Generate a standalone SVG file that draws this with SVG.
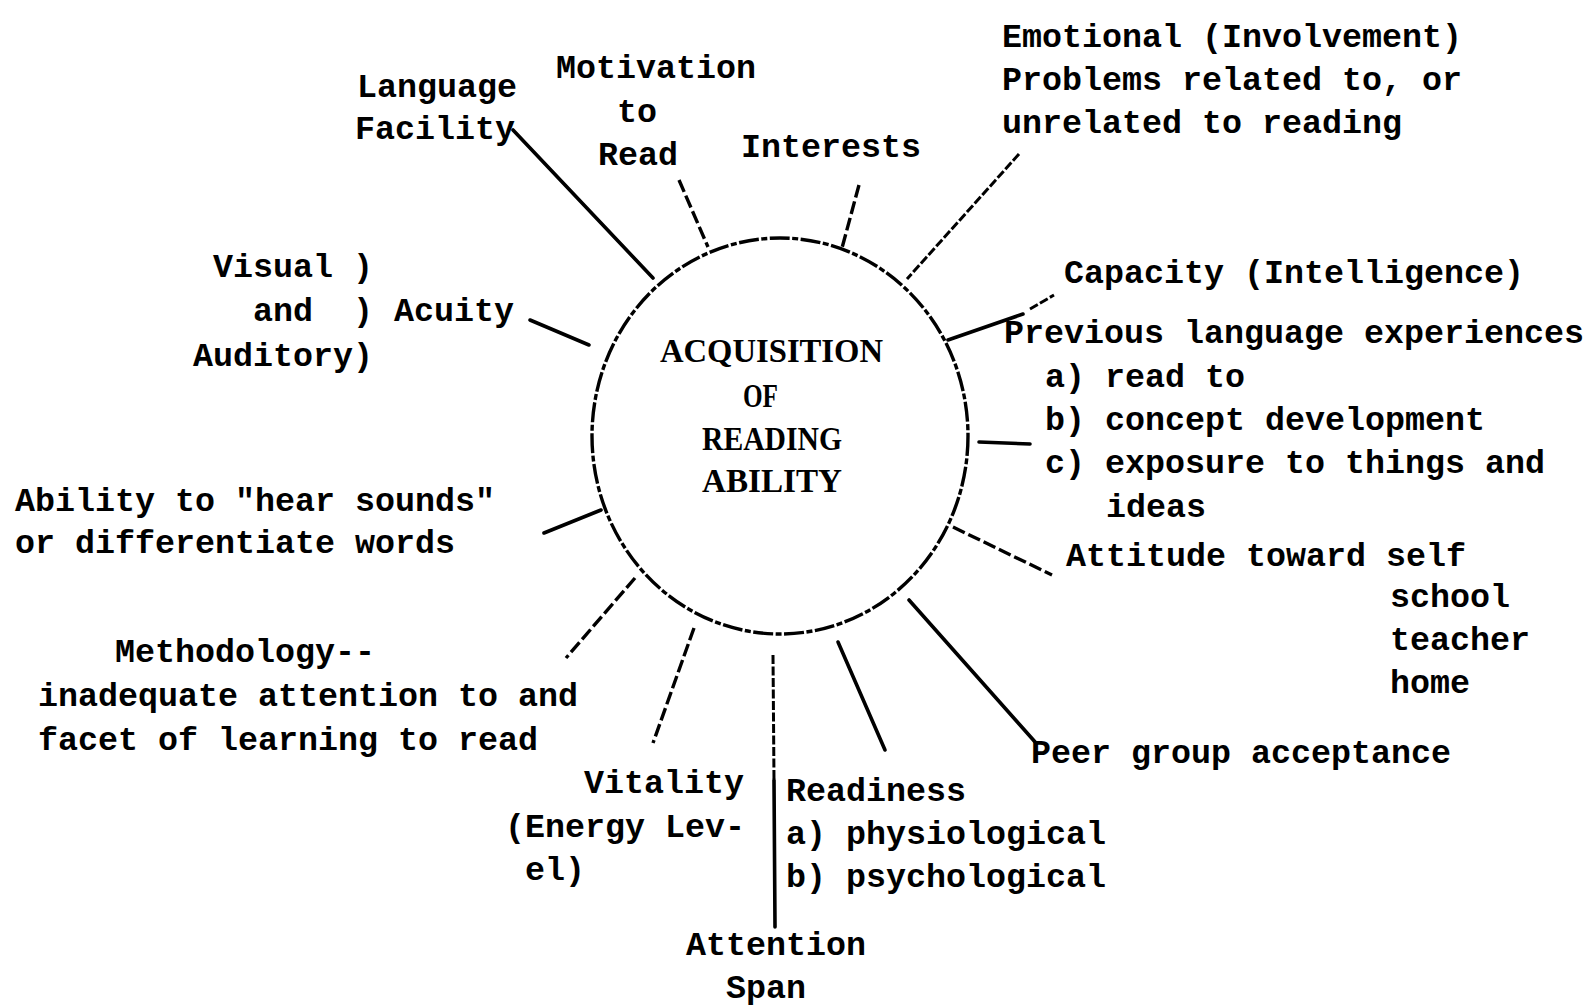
<svg xmlns="http://www.w3.org/2000/svg" width="1592" height="1005" viewBox="0 0 1592 1005">
<style>
  .t { font-family: "Liberation Mono", "DejaVu Sans Mono", monospace; font-weight: bold; font-size: 33.33px; fill: #000; }
  .c { font-family: "Liberation Serif", "DejaVu Serif", serif; font-weight: bold; font-size: 34px; fill: #000; }
  .ln { stroke: #000; stroke-width: 3.6; fill: none; stroke-linecap: round; }
  .dl { stroke: #000; stroke-width: 3.4; fill: none; stroke-dasharray: 13 4; }
  .df { stroke: #000; stroke-width: 3; fill: none; stroke-dasharray: 9 2.5; }
</style>
<rect width="1592" height="1005" fill="#fff"/>

<g id="center">
  <ellipse cx="780" cy="436" rx="188" ry="198" fill="none" stroke="#000" stroke-width="3.4" stroke-dasharray="20 2.5 6 2.5"/>
  <text class="c" x="660" y="362" textLength="223" lengthAdjust="spacingAndGlyphs">ACQUISITION</text>
  <text class="c" x="743" y="407" textLength="35" lengthAdjust="spacingAndGlyphs">OF</text>
  <text class="c" x="702" y="450" textLength="140" lengthAdjust="spacingAndGlyphs">READING</text>
  <text class="c" x="702" y="492" textLength="140" lengthAdjust="spacingAndGlyphs">ABILITY</text>
</g>

<g id="connectors">
  <line class="ln" x1="513" y1="130" x2="653" y2="278"/>
  <line class="dl" x1="679" y1="180" x2="708" y2="247"/>
  <line class="dl" x1="859" y1="185" x2="842" y2="248"/>
  <line class="df" x1="1019" y1="154" x2="907" y2="279"/>
  <line class="ln" x1="948" y1="340" x2="1023" y2="314"/>
  <line class="df" x1="1030" y1="309" x2="1054" y2="295"/>
  <line class="ln" x1="979" y1="442" x2="1030" y2="444"/>
  <line class="dl" x1="953" y1="527" x2="1052" y2="575"/>
  <line class="ln" x1="909" y1="600" x2="1036" y2="743"/>
  <line class="ln" x1="838" y1="642" x2="885" y2="750"/>
  <line class="df" x1="773" y1="655" x2="774" y2="780"/>
  <line class="ln" x1="774" y1="780" x2="775" y2="927"/>
  <line class="dl" x1="694" y1="628" x2="653" y2="743"/>
  <line class="dl" x1="635" y1="578" x2="566" y2="658"/>
  <line class="ln" x1="544" y1="533" x2="601" y2="510"/>
  <line class="ln" x1="530" y1="320" x2="589" y2="345"/>
</g>

<g id="language-facility">
  <text class="t" x="357" y="97">Language</text>
  <text class="t" x="355" y="139">Facility</text>
</g>
<g id="motivation">
  <text class="t" x="556" y="78">Motivation</text>
  <text class="t" x="617" y="122">to</text>
  <text class="t" x="598" y="165">Read</text>
</g>
<g id="interests">
  <text class="t" x="741" y="157">Interests</text>
</g>
<g id="emotional">
  <text class="t" x="1002" y="47">Emotional (Involvement)</text>
  <text class="t" x="1002" y="90">Problems related to, or</text>
  <text class="t" x="1002" y="133">unrelated to reading</text>
</g>
<g id="capacity">
  <text class="t" x="1064" y="283">Capacity (Intelligence)</text>
</g>
<g id="previous-language">
  <text class="t" x="1004" y="343">Previous language experiences</text>
  <text class="t" x="1045" y="387">a) read to</text>
  <text class="t" x="1045" y="430">b) concept development</text>
  <text class="t" x="1045" y="473">c) exposure to things and</text>
  <text class="t" x="1106" y="517">ideas</text>
</g>
<g id="attitude">
  <text class="t" x="1066" y="566">Attitude toward self</text>
  <text class="t" x="1390" y="607">school</text>
  <text class="t" x="1390" y="650">teacher</text>
  <text class="t" x="1390" y="693">home</text>
</g>
<g id="peer-group">
  <text class="t" x="1031" y="763">Peer group acceptance</text>
</g>
<g id="readiness">
  <text class="t" x="786" y="801">Readiness</text>
  <text class="t" x="786" y="844">a) physiological</text>
  <text class="t" x="786" y="887">b) psychological</text>
</g>
<g id="attention-span">
  <text class="t" x="686" y="955">Attention</text>
  <text class="t" x="726" y="998">Span</text>
</g>
<g id="vitality">
  <text class="t" x="584" y="793">Vitality</text>
  <text class="t" x="505" y="837">(Energy Lev-</text>
  <text class="t" x="525" y="880">el)</text>
</g>
<g id="methodology">
  <text class="t" x="115" y="662">Methodology--</text>
  <text class="t" x="38" y="706">inadequate attention to and</text>
  <text class="t" x="38" y="750">facet of learning to read</text>
</g>
<g id="ability">
  <text class="t" x="15" y="511">Ability to "hear sounds"</text>
  <text class="t" x="15" y="553">or differentiate words</text>
</g>
<g id="acuity">
  <text class="t" x="213" y="277">Visual</text>
  <text class="t" x="353" y="277">)</text>
  <text class="t" x="253" y="321">and</text>
  <text class="t" x="353" y="321">)</text>
  <text class="t" x="394" y="321">Acuity</text>
  <text class="t" x="193" y="366">Auditory)</text>
</g>
</svg>
